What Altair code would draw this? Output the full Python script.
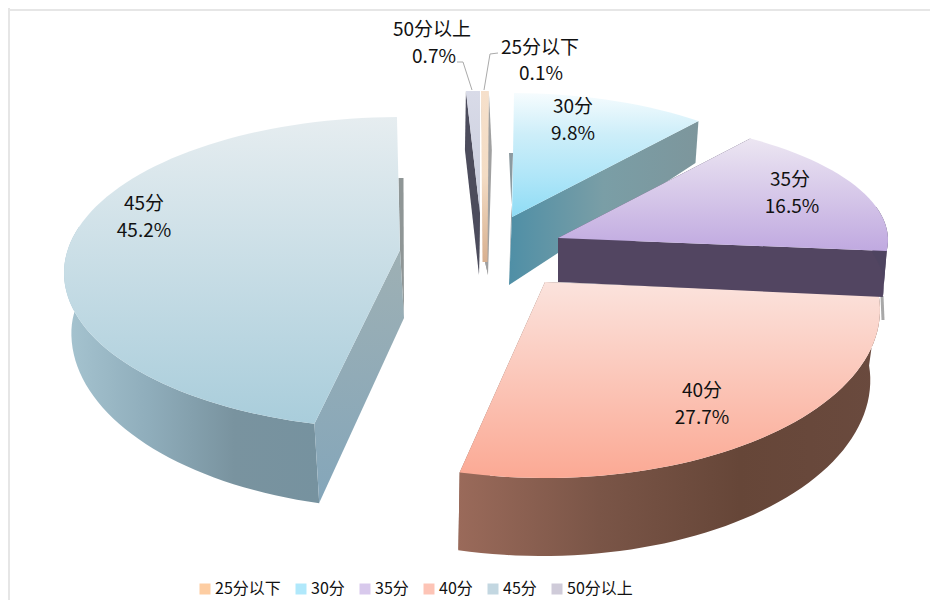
import math
import altair as alt
import pandas as pd

CATEGORIES = ["25分以下", "30分", "35分", "40分", "45分", "50分以上"]
SHARES = [0.1, 9.8, 16.5, 27.7, 45.2, 0.7]
LEGEND_COLORS = ["#fdcda2", "#b0e8fb", "#d8c9ec", "#fdc4b6", "#c3d7e1", "#cfcbd9"]

# Perspective model of each exploded slice
GEOM = {
    "30分": dict(ax=512, ay=217, a=320, b=150, c=26, h0=60, h1=42, ha=68, dx=-3, k=1.0, side=42, front=42),
    "35分": dict(ax=558, ay=238, a=330, b=125, c=2, h0=44, h1=46, ha=44, dx=0, k=0.988, side=46, front=46),
    "40分": dict(ax=545, ay=282, a=335, b=168, c=28, h0=30, h1=78, ha=70, dx=-3, k=0.98, side=70, front=78),
    "45分": dict(ax=400, ay=250, a=336, b=156, c=23, h0=79, h1=61, ha=68, dx=4, k=0.99, side=60, front=80),
    "50分以上": dict(ax=480, ay=213, a=320, b=122, c=0, h0=59, h1=59, ha=62, dx=-1, k=1.0, side=59, front=59),
    "25分以下": dict(ax=485, ay=262, a=320, b=171, c=0, h0=59, h1=59, ha=13, dx=3, k=1.0, side=59, front=59, ox=-4, aw=2.5),
}
MIN_SWEEP = 1.4  # degrees: the thinnest slice is still drawn visibly
ANGLE_SHIFT = {"40分": (-10, 0), "45分": (0, 2)}  # perspective distortion of the edges, degrees
BACK_STRIP = {"30分": ("r0", 2), "45分": ("r1", 2.5)}  # radial walls seen only as a narrow strip


def vgrad(*cols):
    n = len(cols) - 1
    return alt.Gradient(gradient="linear", x1=0, x2=0, y1=0, y2=1,
                        stops=[alt.GradientStop(color=c, offset=i / n) for i, c in enumerate(cols)])


def hgrad(*cols):
    n = len(cols) - 1
    return alt.Gradient(gradient="linear", x1=0, x2=1, y1=0, y2=0,
                        stops=[alt.GradientStop(color=c, offset=i / n) for i, c in enumerate(cols)])


STYLE = {
    "30分": dict(top=vgrad("#f6fcfe", "#cdeef9", "#b0e6f8", "#8fdcf5"), outer="#8aa9ae", rstart="#8c9aa0", rend=hgrad("#4f8fa6", "#7a9ea6", "#7d969c")),
    "35分": dict(top=vgrad("#ece6f2", "#c0a9e0"), outer="#4e4460", rstart="#4e4460", rend="#524561"),
    "40分": dict(top=vgrad("#fbe3dd", "#fba994"), outer=hgrad("#9a6a5a", "#7a5547", "#664638", "#6a4a3e"), rstart="#7d7370", rend="#8b6355"),
    "45分": dict(top=vgrad("#e6edf0", "#a9cddb"), outer=hgrad("#a6c4d0", "#8fadbb", "#79939f", "#76929f"), rstart=vgrad("#9eb0b4", "#84a6ba"), rend="#8f9696"),
    "50分以上": dict(top=vgrad("#d9dbe8", "#c8ccdc"), outer="#999999", rstart="#4c4c5c", rend="#6e6e76"),
    "25分以下": dict(top=vgrad("#f6e0cb", "#f3dcc4", "#d8b090"), outer="#999999", rstart="#a0a0a0", rend="#a0a0a0"),
}

X_SCALE = alt.Scale(domain=[8, 930], nice=False, zero=False)
Y_SCALE = alt.Scale(domain=[600, 8], nice=False, zero=False)


def polygon(pts, fill):
    pts = list(pts) + [pts[0]]
    df = pd.DataFrame({"x": [p[0] for p in pts], "y": [p[1] for p in pts], "i": range(len(pts))})
    return alt.Chart(df).mark_line(fill=fill, stroke="transparent", strokeWidth=0).encode(
        x=alt.X("x:Q", scale=X_SCALE, axis=None),
        y=alt.Y("y:Q", scale=Y_SCALE, axis=None),
        order="i:Q",
    )


sweeps = {}
start = 0.0
for cat, share in zip(CATEGORIES, SHARES):
    sweep = share * 3.6
    sweeps[cat] = (start, start + sweep)
    start += sweep
s0, s1 = sweeps["25分以下"]
sweeps["25分以下"] = (s0, s0 + max(s1 - s0, MIN_SWEEP))
sweeps["50分以上"] = (sweeps["50分以上"][0], 360.0)
for cat, (d0, d1) in ANGLE_SHIFT.items():
    sweeps[cat] = (sweeps[cat][0] + d0, sweeps[cat][1] + d1)


def slice_layers(cat):
    g = GEOM[cat]
    st = STYLE[cat]
    t0, t1 = sweeps[cat]
    ox = g.get("ox", 0)
    aw = g.get("aw", 0)
    steps = max(2, int((t1 - t0) / 2))
    angles = [math.radians(t0 + (t1 - t0) * i / steps) for i in range(steps + 1)]

    def top(t):
        return (g["ax"] + ox + g["a"] * math.sin(t), g["ay"] + g["c"] - g["b"] * math.cos(t))

    def bottom(t, h=None):
        if h is None:
            h = g["side"] + (g["front"] - g["side"]) * max(0.0, -math.cos(t))
        return (g["ax"] + ox + g["dx"] + g["a"] * g["k"] * math.sin(t), g["ay"] + g["c"] - g["b"] * math.cos(t) + h)

    apex = (g["ax"], g["ay"])
    apex_b = (g["ax"] + g["dx"], g["ay"] + g["ha"])
    tops = [top(t) for t in angles]

    def radial(name, t, h, fill, corner):
        strip = BACK_STRIP.get(cat)
        if strip and strip[0] == name:
            cx, cy = bottom(t, h)
            return polygon([(cx - strip[1], cy), (cx + strip[1], cy), apex_b, apex], fill)
        return polygon([apex, corner, bottom(t, h), apex_b], fill)

    r0 = radial("r0", angles[0], g["h0"], st["rstart"], tops[0])
    r1 = radial("r1", angles[-1], g["h1"], st["rend"], tops[-1])
    out = [r1, r0] if cat in ("45分", "50分以上") else [r0, r1]

    front = [t for t in angles if math.cos(t) < 0.3]
    if len(front) >= 2:
        arc = polygon([top(t) for t in front] + [bottom(t) for t in front][::-1], st["outer"])
        if cat == "45分":
            out = [out[0], arc, out[1]]
        else:
            out.append(arc)
    if aw:
        out.append(polygon([(apex[0] - aw, apex[1])] + tops + [(apex[0] + aw, apex[1])], st["top"]))
    else:
        out.append(polygon([apex] + tops, st["top"]))
    return out


def stroke_line(pts, color, width):
    df = pd.DataFrame({"x": [p[0] for p in pts], "y": [p[1] for p in pts], "i": range(len(pts))})
    return alt.Chart(df).mark_line(color=color, strokeWidth=width).encode(
        x=alt.X("x:Q", scale=X_SCALE, axis=None), y=alt.Y("y:Q", scale=Y_SCALE, axis=None), order="i:Q")


layers = []
for cat in ["30分", "50分以上", "25分以下", "45分", "40分"]:
    layers += slice_layers(cat)
layers.append(stroke_line([(882, 296), (883, 320)], "#a8a8a8", 3))
layers += slice_layers("35分")

# Leader lines
LEADERS = [
    [(457, 62), (463, 62), (472, 90)],
    [(498, 53), (490, 54), (484, 90)],
]
for pts in LEADERS:
    layers.append(stroke_line(pts, "#aaaaaa", 1))

# Data labels
LABEL_TEXT = ["50分以上", "0.7%", "25分以下", "0.1%", "30分", "9.8%", "35分", "16.5%", "40分", "27.7%", "45分", "45.2%"]
LABEL_X = [432, 434, 540, 541, 573, 573, 790, 792, 702, 702, 144, 144]
LABEL_Y = [30, 57, 48, 74, 107, 134, 180, 207, 391, 418, 204, 231]
layers.append(
    alt.Chart(pd.DataFrame({"t": LABEL_TEXT, "x": LABEL_X, "y": LABEL_Y}))
    .mark_text(font="Noto Sans CJK SC", fontSize=19, color="#111111", align="center", baseline="middle")
    .encode(x=alt.X("x:Q", scale=X_SCALE, axis=None), y=alt.Y("y:Q", scale=Y_SCALE, axis=None), text="t:N")
)

# Frame
layers.append(alt.Chart(pd.DataFrame({"a": [0]})).mark_rule(color="#e6e6e6", strokeWidth=2).encode(
    x=alt.value(1), y=alt.value(0), y2=alt.value(592)))
layers.append(alt.Chart(pd.DataFrame({"a": [0]})).mark_rule(color="#e6e6e6", strokeWidth=2).encode(
    x=alt.value(0), x2=alt.value(922), y=alt.value(2)))

# Legend
legend = alt.Legend(
    orient="none", legendX=189, legendY=573, direction="horizontal", columns=6, title=None,
    symbolType="square", symbolSize=121, symbolOpacity=1, symbolStrokeWidth=0,
    labelFont="Noto Sans CJK SC", labelFontSize=16, labelColor="#111111", labelLimit=200,
    labelOffset=2, columnPadding=12, symbolOffset=0,
)
layers.append(
    alt.Chart(pd.DataFrame({"c": CATEGORIES, "v": SHARES}))
    .mark_point(filled=True, opacity=0, size=1)
    .encode(
        x=alt.value(-50), y=alt.value(-50),
        color=alt.Color("c:N", sort=CATEGORIES, scale=alt.Scale(domain=CATEGORIES, range=LEGEND_COLORS), legend=legend),
    )
)

chart = alt.layer(*layers).properties(
    width=922, height=592, padding=0, autosize=alt.AutoSizeParams(type="none"), background="white"
).configure_view(stroke=None).resolve_scale(x="shared", y="shared")

chart.save("out.html", embed_options={"renderer": "svg", "actions": False})
